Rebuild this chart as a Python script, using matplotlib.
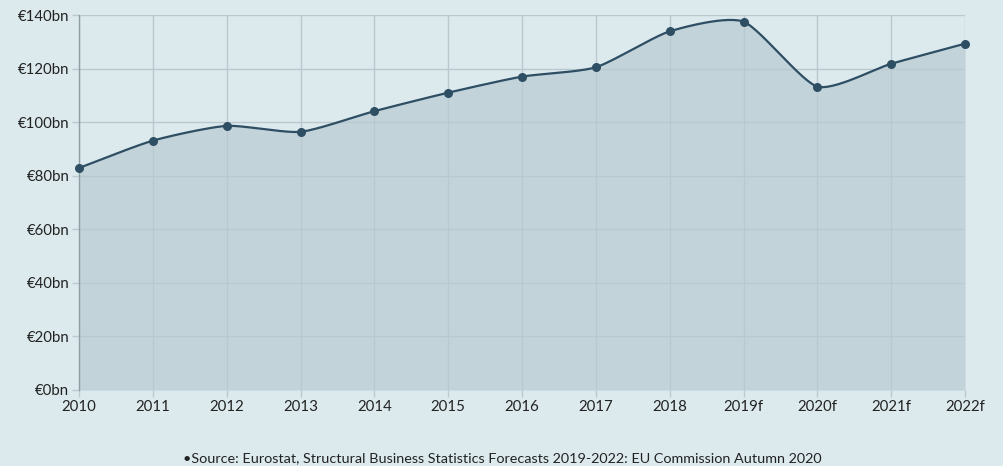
import matplotlib
matplotlib.use("Agg")
import matplotlib.pyplot as plt
import numpy as np

plt.rcParams['font.family'] = ['Lato', 'DejaVu Sans']

years = ["2010", "2011", "2012", "2013", "2014", "2015", "2016",
         "2017", "2018", "2019f", "2020f", "2021f", "2022f"]
values = [82.9, 93.1, 98.6, 96.4, 104.1, 111.0, 117.0,
          120.5, 133.9, 137.5, 113.3, 121.8, 129.3]
y_ticks = [0, 20, 40, 60, 80, 100, 120, 140]
source = "\u2022Source: Eurostat, Structural Business Statistics Forecasts 2019-2022: EU Commission Autumn 2020"

bg = "#dceaee"
fill_col = "#c2d3da"
line_col = "#2e4e63"
grid_col = "#b9c9cf"


def smooth(x, y, c=0.65, n=30):
    # cardinal (hermite) spline through the points
    x = np.asarray(x, float)
    y = np.asarray(y, float)
    mx = np.gradient(x) * c
    my = np.gradient(y) * c
    t = np.linspace(0, 1, n)
    h00 = 2 * t**3 - 3 * t**2 + 1
    h10 = t**3 - 2 * t**2 + t
    h01 = -2 * t**3 + 3 * t**2
    h11 = t**3 - t**2
    xs, ys = [], []
    for i in range(len(x) - 1):
        sx = h00 * x[i] + h10 * mx[i] + h01 * x[i + 1] + h11 * mx[i + 1]
        sy = h00 * y[i] + h10 * my[i] + h01 * y[i + 1] + h11 * my[i + 1]
        xs.extend(sx if i == 0 else sx[1:])
        ys.extend(sy if i == 0 else sy[1:])
    return np.array(xs), np.array(ys)


x = np.arange(len(years))
sx, sy = smooth(x, values)

fig = plt.figure(figsize=(10.04, 4.66), dpi=100, facecolor=bg)
ax = fig.add_axes([0.0787, 0.1631, 0.9612 - 0.0787, 0.9678 - 0.1631])
ax.set_facecolor(bg)

ax.fill_between(sx, 0, sy, color=fill_col, zorder=1, linewidth=0)
ax.plot(sx, sy, color=line_col, linewidth=1.6, zorder=3)
ax.scatter(x, values, s=30, color=line_col, zorder=6, clip_on=False)

ax.set_xlim(0, len(years) - 1)
ax.set_ylim(0, 140)
ax.set_xticks(x)
ax.set_xticklabels(years)
ax.set_yticks(y_ticks)
ax.set_yticklabels(["\u20ac%dbn" % v for v in y_ticks])

ax.grid(True, color=grid_col, linewidth=1.0, zorder=2)
for line in ax.get_xgridlines() + ax.get_ygridlines():
    line.set_zorder(2)

for s in ["top", "right", "bottom"]:
    ax.spines[s].set_visible(False)
ax.spines["left"].set_color("#8e9ea5")
ax.spines["left"].set_linewidth(1.0)
ax.spines["left"].set_zorder(5)

ax.tick_params(axis="both", colors=grid_col, labelcolor="#222222",
               labelsize=10.8, length=5, width=1)
ax.tick_params(axis="x", pad=2)
ax.tick_params(axis="y", pad=2)

fig.text(0.5, 0.005, source, ha="center", va="bottom", fontsize=10.4, color="#222222")

fig.savefig("out.png", dpi=100, facecolor=bg)
